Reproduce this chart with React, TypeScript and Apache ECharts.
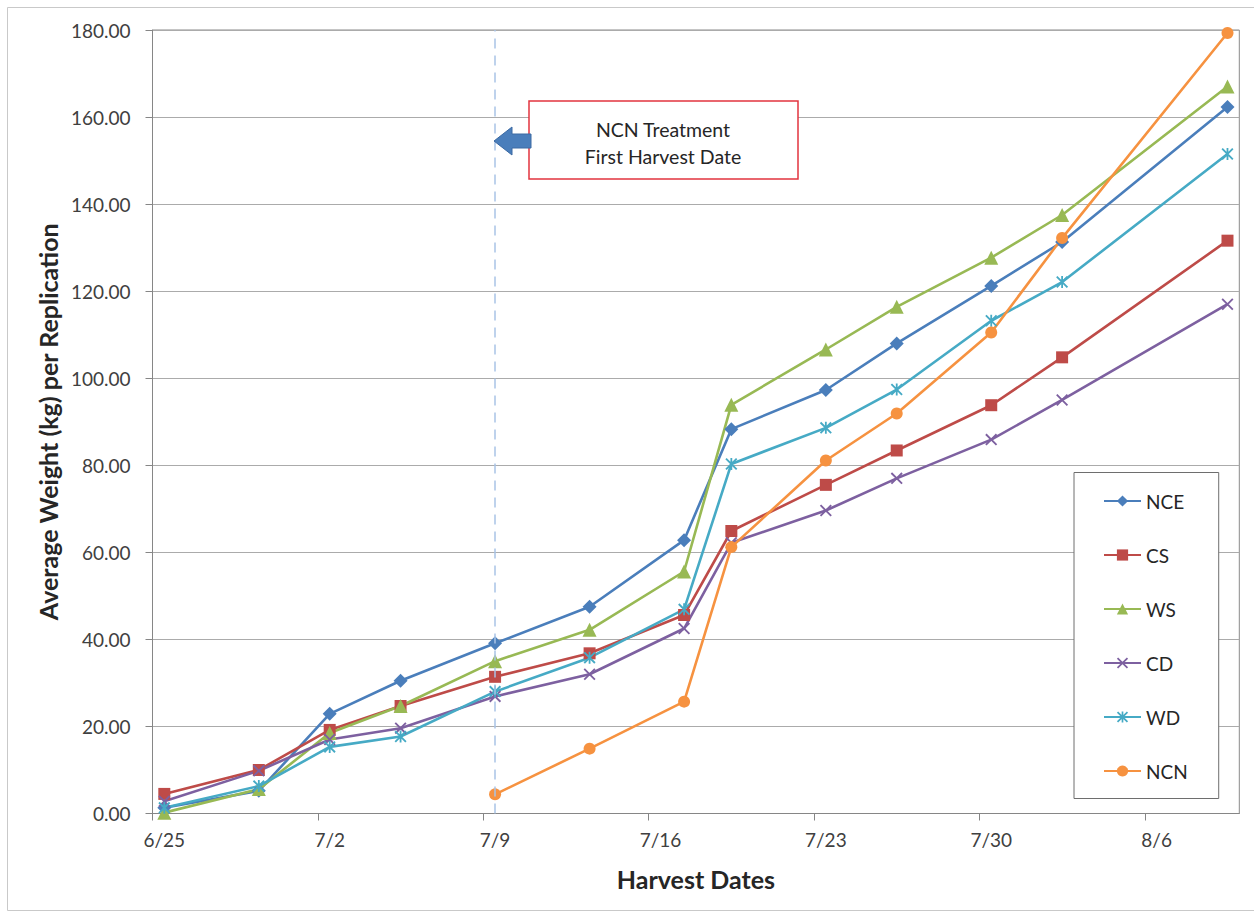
import React, { useEffect, useRef } from 'react';
import * as echarts from 'echarts';

// ---------- data ----------
const YEAR = 2013;
const axisStartDate = '6/25';
const axisEndDate = '8/10';
const tickStepDays = 7;

const harvestDates = ['6/25', '6/29', '7/2', '7/5', '7/9', '7/13', '7/17', '7/19', '7/23', '7/26', '7/30', '8/2', '8/9'];

const seriesNames = ['NCE', 'CS', 'WS', 'CD', 'WD', 'NCN'];

const NCE = [1.3, 5.2, 22.9, 30.5, 39.1, 47.5, 62.8, 88.3, 97.3, 108.0, 121.2, 131.3, 162.3];
const CS = [4.5, 10.0, 19.2, 24.7, 31.4, 36.8, 45.6, 64.9, 75.5, 83.4, 93.8, 104.8, 131.6];
const WS = [0.2, 5.6, 18.5, 24.7, 35.0, 42.2, 55.6, 93.9, 106.6, 116.4, 127.7, 137.5, 167.0];
const CD = [2.8, 9.8, 17.0, 19.6, 26.9, 32.0, 42.5, 62.2, 69.6, 77.0, 85.9, 95.0, 117.0];
const WD = [1.3, 6.3, 15.3, 17.7, 28.0, 35.8, 46.9, 80.3, 88.6, 97.4, 113.2, 122.1, 151.5];
const NCN = [null, null, null, null, 4.4, 14.9, 25.7, 61.2, 81.1, 91.9, 110.5, 132.2, 179.3];

const yMin = 0;
const yMax = 180;
const yStep = 20;

const annotationLines = ['NCN Treatment', 'First Harvest Date'];
const xTitle = 'Harvest Dates';
const yTitle = 'Average Weight (kg) per Replication';

// ---------- helpers ----------
const DAY = 86400000;
const toTime = (md: string) => {
  const [m, d] = md.split('/').map(Number);
  return Date.UTC(YEAR, m - 1, d);
};
const startT = toTime(axisStartDate);
const dayIndex = (md: string) => Math.round((toTime(md) - startT) / DAY);
const dayLabel = (idx: number) => {
  const dt = new Date(startT + Math.floor(idx + 1e-6) * DAY);
  return `${dt.getUTCMonth() + 1}/${dt.getUTCDate()}`;
};
const axisMaxDay = dayIndex(axisEndDate);
const weekTicks: number[] = [];
for (let v = 0; v < axisMaxDay; v += tickStepDays) weekTicks.push(v);

// Excel date axis: each day occupies a slot, points sit in the middle of the slot
const pts = (vals: (number | null)[]) =>
  harvestDates
    .map((d, i) => [dayIndex(d) + 0.5, vals[i]] as [number, number | null])
    .filter((p) => p[1] !== null);

const X_SHAPE = (t: number) =>
  `M${t} 0L10 ${10 - t}L${10 - t} 10L0 ${t}Z M${10 - t} 0L10 ${t}L${t} 10L0 ${10 - t}Z`;
const crossPath = 'path://' + X_SHAPE(1.1);
const starPath = 'path://' + X_SHAPE(1.1) + ' M4.25 0L5.75 0L5.75 10L4.25 10Z';

const colors: Record<string, string> = {
  NCE: '#4A7EBB',
  CS: '#BE4B48',
  WS: '#98B954',
  CD: '#7D60A0',
  WD: '#46AAC5',
  NCN: '#F69240',
};
const symbols: Record<string, [string, number]> = {
  NCE: ['diamond', 14],
  CS: ['rect', 12],
  WS: ['triangle', 14],
  CD: [crossPath, 12],
  WD: [starPath, 12],
  NCN: ['circle', 12],
};
const values: Record<string, (number | null)[]> = { NCE, CS, WS, CD, WD, NCN };

const FONT = 'Lato, "Open Sans", sans-serif';

export default function App() {
  const ref = useRef<HTMLDivElement>(null);

  useEffect(() => {
    document.body.style.margin = '0';
    if (!ref.current) return;
    const chart = echarts.init(ref.current, undefined, { renderer: 'svg' });

    const ncnFirst = harvestDates[NCN.findIndex((v) => v !== null)];

    const series: any[] = seriesNames.map((name) => ({
      name,
      type: 'line',
      data: pts(values[name]),
      symbol: symbols[name][0],
      symbolSize: symbols[name][1],
      lineStyle: { color: colors[name], width: 2.6 },
      itemStyle: { color: colors[name], borderWidth: 0 },
      emphasis: { disabled: true },
      ...(name === 'NCN'
        ? {
            markLine: {
              silent: true,
              symbol: 'none',
              label: { show: false },
              lineStyle: { color: '#A9C4E6', width: 1.5, type: [10, 7] },
              data: [{ xAxis: dayIndex(ncnFirst) + 0.5 }],
            },
          }
        : {}),
    }));

    chart.setOption({
      animation: false,
      backgroundColor: '#ffffff',
      textStyle: { fontFamily: FONT },
      grid: {
        left: 152.5,
        right: 14.7,
        top: 30,
        bottom: 99.5,
        show: true,
        borderColor: '#8a8a8a',
        borderWidth: 1,
        backgroundColor: 'transparent',
      },
      xAxis: {
        type: 'value',
        min: 0,
        max: axisMaxDay,
        interval: tickStepDays,
        name: xTitle,
        nameLocation: 'middle',
        nameGap: 53,
        nameTextStyle: { fontFamily: FONT, fontSize: 25, fontWeight: 'bold', color: '#262626' },
        axisLine: { show: true, lineStyle: { color: '#868686', width: 1 } },
        axisTick: {
          show: true,
          inside: false,
          length: 7,
          lineStyle: { color: '#868686' },
          customValues: weekTicks,
        },
        axisLabel: {
          margin: 16,
          fontFamily: FONT,
          fontSize: 19,
          color: '#404040',
          customValues: weekTicks.map((v) => v + 0.5),
          formatter: (v: number) => dayLabel(v),
        },
        splitLine: { show: false },
      },
      yAxis: {
        type: 'value',
        min: yMin,
        max: yMax,
        interval: yStep,
        name: yTitle,
        nameLocation: 'middle',
        nameGap: 89,
        nameTextStyle: { fontFamily: FONT, fontSize: 25, fontWeight: 'bold', color: '#262626' },
        axisLine: { show: true, lineStyle: { color: '#868686', width: 1 } },
        axisTick: { show: true, inside: false, length: 7, lineStyle: { color: '#868686' } },
        axisLabel: {
          margin: 22,
          fontFamily: FONT,
          fontSize: 19,
          color: '#404040',
          formatter: (v: number) => v.toFixed(2),
        },
        splitLine: { show: true, lineStyle: { color: '#ababab', width: 1 } },
      },
      legend: {
        orient: 'vertical',
        left: 1074,
        top: 472.5,
        itemWidth: 37,
        itemHeight: 14,
        itemGap: 35,
        padding: [19, 31, 18, 29],
        borderColor: '#6e6e6e',
        borderWidth: 1,
        backgroundColor: '#ffffff',
        textStyle: { fontFamily: FONT, fontSize: 19, color: '#262626' },
        data: seriesNames,
      },
      graphic: [
        {
          type: 'rect',
          silent: true,
          z: 0,
          shape: { x: 7.5, y: 7.5, width: 1260, height: 903 },
          style: { fill: 'none', stroke: '#c9c9c9', lineWidth: 1 },
        },
        {
          type: 'rect',
          silent: true,
          z: 100,
          shape: { x: 529, y: 101, width: 269, height: 78 },
          style: { fill: '#ffffff', stroke: '#E2343F', lineWidth: 1.5 },
        },
        ...annotationLines.map((t, i) => ({
          type: 'text',
          silent: true,
          z: 101,
          style: {
            text: t,
            x: 663,
            y: 129 + i * 27,
            align: 'center',
            verticalAlign: 'middle',
            fontFamily: FONT,
            fontSize: 19.5,
            fill: '#262626',
          },
        })),
        {
          type: 'polygon',
          silent: true,
          z: 101,
          shape: {
            points: [
              [494, 141],
              [512, 127],
              [512, 134],
              [531, 134],
              [531, 148],
              [512, 148],
              [512, 155],
            ],
          },
          style: { fill: '#4A7EBB', stroke: '#3C6AA3', lineWidth: 1 },
        },
      ],
      series,
    });

    return () => chart.dispose();
  }, []);

  return <div ref={ref} style={{ width: 1254, height: 913 }} />;
}
